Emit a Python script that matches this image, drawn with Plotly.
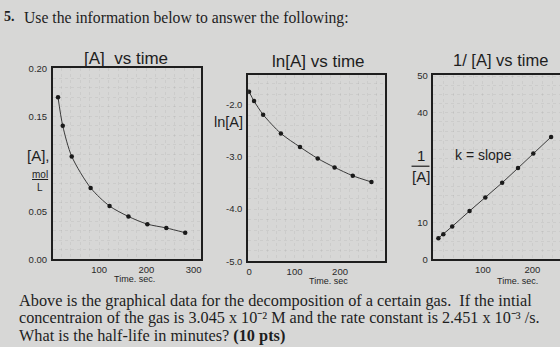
import plotly.graph_objects as go

# ---- data ----
t_conc = [13, 23, 42, 82, 122, 162, 202, 242, 282]
conc = [0.170, 0.140, 0.108, 0.075, 0.056, 0.045, 0.037, 0.033, 0.028]

t_ln = [0, 11, 31, 70, 112, 151, 188, 228, 269]
ln_conc = [-1.75, -1.93, -2.19, -2.55, -2.81, -3.03, -3.20, -3.36, -3.48]

t_inv = [10, 20, 38, 73, 105, 139, 171, 202, 238]
inv_conc = [5.8, 6.9, 9.0, 13.2, 16.9, 20.9, 24.9, 28.9, 33.4]

y1_ticks = [0, 0.05, 0.15, 0.20]
y1_text = ["0.00", "0.05", "0.15", "0.20"]
y2_ticks = [-2, -3, -4, -5]
y2_text = ["-2.0", "-3.0", "-4.0", "-5.0"]
y3_ticks = [0, 10, 40, 50]
x1_ticks = [100, 200, 300]
x2_ticks = [0, 100, 200, 300]
x3_ticks = [100, 200]

W, H = 560, 347
BG = "#d7d7d6"
INK = "#1e1e1e"
SANS = "Liberation Sans, Arial, sans-serif"
SERIF = "Liberation Serif, Times New Roman, serif"


def px(x):
    return x / W


def py(y):
    return 1 - y / H


fig = go.Figure()
line_style = dict(color="#3a3a3a", width=1, shape="spline", smoothing=0.8)
marker_style = dict(color="#1a1a1a", size=4.5, symbol="circle")

fig.add_trace(go.Scatter(x=t_conc, y=conc, mode="lines+markers", line=line_style,
                         marker=marker_style, xaxis="x", yaxis="y", showlegend=False))
fig.add_trace(go.Scatter(x=t_ln, y=ln_conc, mode="lines+markers", line=line_style,
                         marker=marker_style, xaxis="x2", yaxis="y2", showlegend=False))
fig.add_trace(go.Scatter(x=t_inv, y=inv_conc, mode="lines+markers",
                         line=dict(color="#3a3a3a", width=1), marker=marker_style,
                         xaxis="x3", yaxis="y3", showlegend=False))

tickfont = dict(family=SANS, size=9.5, color="#2a2a2a")
minor_grid = dict(showgrid=True, gridcolor="rgba(0,0,0,0.05)", gridwidth=0.6, griddash="dot")


def xaxis(domain, rng, ticks, anchor, mirror=True):
    return dict(domain=domain, range=rng, anchor=anchor, tickmode="array",
                tickvals=ticks, ticktext=[str(v) for v in ticks], showgrid=False,
                zeroline=False, showline=True, linecolor=INK, linewidth=1.6,
                mirror=mirror, ticks="", tickfont=tickfont, ticklabelstandoff=0,
                minor=dict(dtick=20, **minor_grid))


def yaxis(domain, rng, ticks, text, anchor, mirror=True, dtick=None):
    return dict(domain=domain, range=rng, anchor=anchor, tickmode="array",
                tickvals=ticks, ticktext=text, showgrid=False, zeroline=False,
                showline=True, linecolor=INK, linewidth=1.6, mirror=mirror,
                ticks="", tickfont=tickfont, ticklabelstandoff=2,
                minor=dict(dtick=dtick, **minor_grid))


fig.update_layout(
    width=W, height=H, margin=dict(l=0, r=0, t=0, b=0),
    paper_bgcolor=BG, plot_bgcolor=BG,
    xaxis=xaxis([px(51), px(200)], [2, 316], x1_ticks, "y"),
    yaxis=yaxis([py(262), py(65)], [0, 0.2005], y1_ticks, y1_text, "x", dtick=0.01),
    xaxis2=xaxis([px(247), px(384)], [-2, 298], x2_ticks, "y2"),
    yaxis2=yaxis([py(264), py(72)], [-5, -1.43], y2_ticks, y2_text, "x2", dtick=0.2),
    xaxis3=xaxis([px(433), 1.0], [0, 256], x3_ticks, "y3"),
    yaxis3=yaxis([py(262), py(72)], [0, 50.3], y3_ticks, [str(v) for v in y3_ticks],
                 "x3", mirror=False, dtick=2.5),
)


def note(text, x, y, size, family=SANS, xanchor="center", color=INK):
    fig.add_annotation(text=text, x=px(x), y=py(y), xref="paper", yref="paper",
                       xanchor=xanchor, yanchor="middle", showarrow=False,
                       font=dict(family=family, size=size, color=color))


# question header
note("<b>5.</b>", 0, 12, 14, SERIF, xanchor="left")
note("Use the information below to answer the following:", 20, 13, 15.7, SERIF, xanchor="left")

# panel titles
note("[A]  vs time", 124, 55, 17)
note("ln[A] vs time", 318, 58, 17)
note("1/ [A] vs time", 500, 57, 16.5)

# y-axis titles
note("[A],", 37, 155, 15)
note("<u>mol</u>", 38, 175, 10)
note("L", 38, 188, 10)
note("ln[A]", 227, 120, 14.5)
note("1", 420, 155, 15)
note("[A]", 420, 177, 15)
fig.add_shape(type="line", xref="paper", yref="paper", x0=px(411), x1=px(429),
              y0=py(166), y1=py(166), line=dict(color=INK, width=1.2))

note("k = slope", 483, 154, 14)

# x-axis titles
note("Time. sec.", 133, 282, 9)
note("Time. sec", 328, 284, 9)
note("Time. sec.", 517, 284, 9)

# question text
note("Above is the graphical data for the decomposition of a certain gas.  If the intial",
     15, 304, 16.3, SERIF, xanchor="left")
note("concentraion of the gas is 3.045 x 10\u207b\u00b2 M and the rate constant is 2.451 x 10\u207b\u00b3 /s.",
     15, 322, 16.2, SERIF, xanchor="left")
note("What is the half-life in minutes? <b>(10 pts)</b>", 15, 340, 16.3, SERIF, xanchor="left")

fig.write_html("out.html")
